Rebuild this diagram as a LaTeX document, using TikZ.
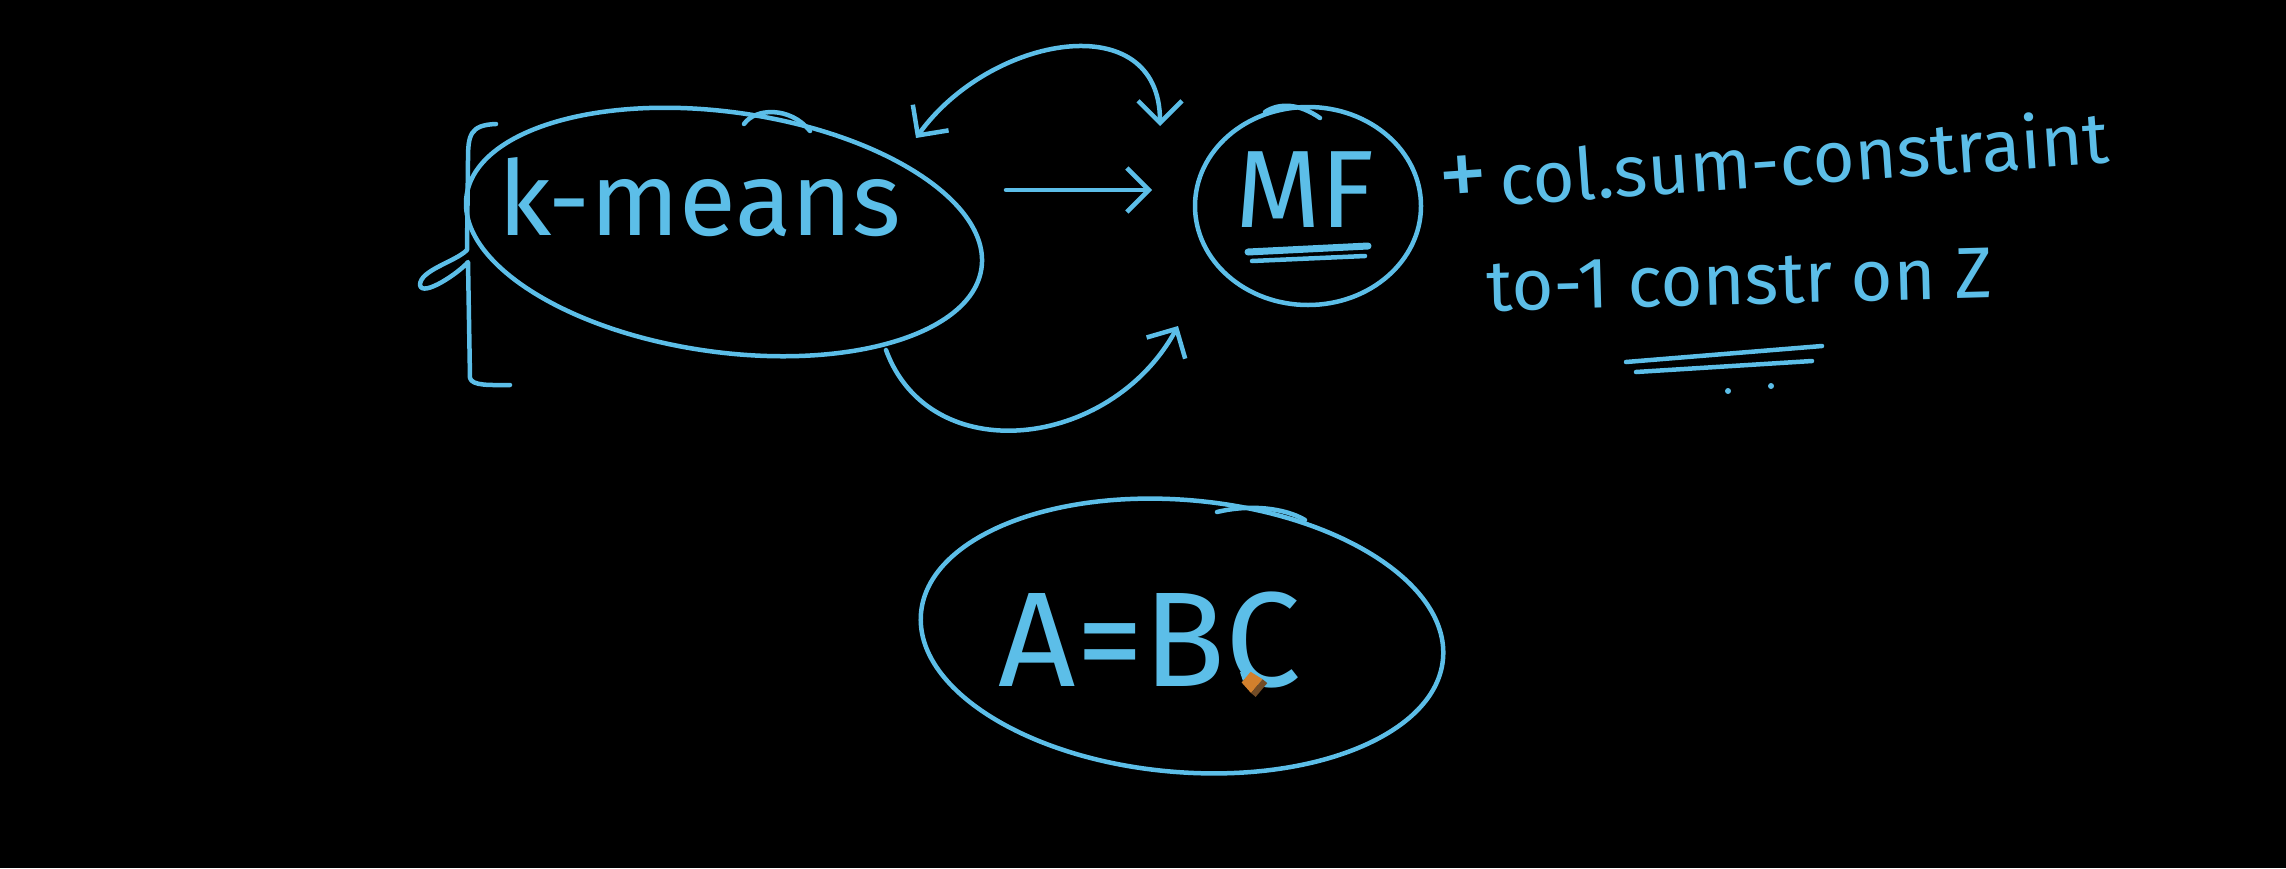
\documentclass[tikz,border=0pt]{standalone}
\usepackage{fontspec}
\setmainfont{Fira Sans}
\usetikzlibrary{shapes.geometric,arrows.meta}
\definecolor{ink}{RGB}{92,190,232}
\tikzset{
  pen/.style={draw=ink, line width=4.5pt, line cap=round, line join=round},
  loop/.style={pen, ellipse, inner sep=0pt},
  hand/.style={text=ink, inner sep=0pt},
  barb/.style={-{Straight Barb[length=22pt,width=44pt,line width=4.5pt]}},
  dbarb/.style={{Straight Barb[length=22pt,width=44pt,line width=4.5pt]}-{Straight Barb[length=22pt,width=44pt,line width=4.5pt]}},
}
\begin{document}
\begin{tikzpicture}[x=1pt,y=-1pt]
\fill[black] (0,0) rectangle (2286,868);
\useasboundingbox (0,0) rectangle (2286,868);

% k-means group
\node[loop, minimum width=520pt, minimum height=240pt, rotate=-8] (kloop) at (724,232) {};
\node[hand, font=\fontsize{104}{110}\selectfont] (ktext) at (700,197) {k-means};
\draw[pen] (744,124) .. controls (755,108) and (790,106) .. (810,131);
\draw[pen] (496,124) .. controls (470,125) and (468,135) .. (468,160) -- (467,250)
  .. controls (455,262) and (420,270) .. (420,285)
  .. controls (422,298) and (460,272) .. (468,262)
  -- (470,378) .. controls (472,386) and (490,385) .. (510,385);

% MF
\node[loop, minimum width=226pt, minimum height=198pt] (mfloop) at (1308,206) {};
\node[hand, font=\fontsize{110}{116}\selectfont] (mftext) at (1305,190) {MF};
\draw[pen] (1265,112) .. controls (1280,102) and (1300,104) .. (1320,118);
\coordinate (mful1) at (1248,252);
\coordinate (mfur1) at (1368,246);
\coordinate (mful2) at (1252,261);
\coordinate (mfur2) at (1365,256);
\draw[pen, line width=7pt] (mful1) -- (mfur1);
\draw[pen] (mful2) -- (mfur2);

% connectors between k-means and MF
\coordinate (s1) at (1006,190);
\coordinate (e1) at (1152,190);
\draw[pen, barb] (s1) -- (e1);
\coordinate (s2) at (916,138);
\coordinate (e2) at (1160,126);
\draw[pen, dbarb] (s2) .. controls (990,35) and (1160,5) .. (e2);
\coordinate (s3) at (886,350);
\coordinate (e3) at (1178,326);
\draw[pen, barb] (s3) .. controls (930,470) and (1110,450) .. (e3);

% constraint notes
\node[hand, anchor=base west, rotate=4, font=\fontsize{72}{76}\selectfont] (note1) at (1440,210) {{\fontsize{100}{100}\selectfont +}\,col.sum-constraint};
\node[hand, anchor=base west, rotate=1.5, font=\fontsize{72}{76}\selectfont] (note2) at (1487,311) {to-1 constr on Z};
\coordinate (ul1) at (1626,362);
\coordinate (ur1) at (1822,346);
\coordinate (ul2) at (1636,372);
\coordinate (ur2) at (1812,361);
\draw[pen] (ul1) -- (ur1);
\draw[pen] (ul2) -- (ur2);
\fill[ink] (1728,391) circle (3pt);
\fill[ink] (1771,386) circle (3pt);

% A = BC
\node[loop, minimum width=524pt, minimum height=272pt, rotate=-5] (abcloop) at (1182,636) {};
\node[hand, font=\fontsize{135}{140}\selectfont] (abctext) at (1150,640) {A=BC};
\draw[pen] (1217,512) .. controls (1250,504) and (1285,508) .. (1305,520);

% pencil cursor
\begin{scope}[shift={(1240,672)}, rotate=-40]
\fill[ink] (0,0) -- (8,-5) -- (8,5) -- cycle;
\fill[brown!70!orange] (8,-7) -- (22,-9) -- (22,9) -- (8,7) -- cycle;
\fill[brown!60!black] (22,-9) rectangle (28,9);
\end{scope}
\end{tikzpicture}
\end{document}
